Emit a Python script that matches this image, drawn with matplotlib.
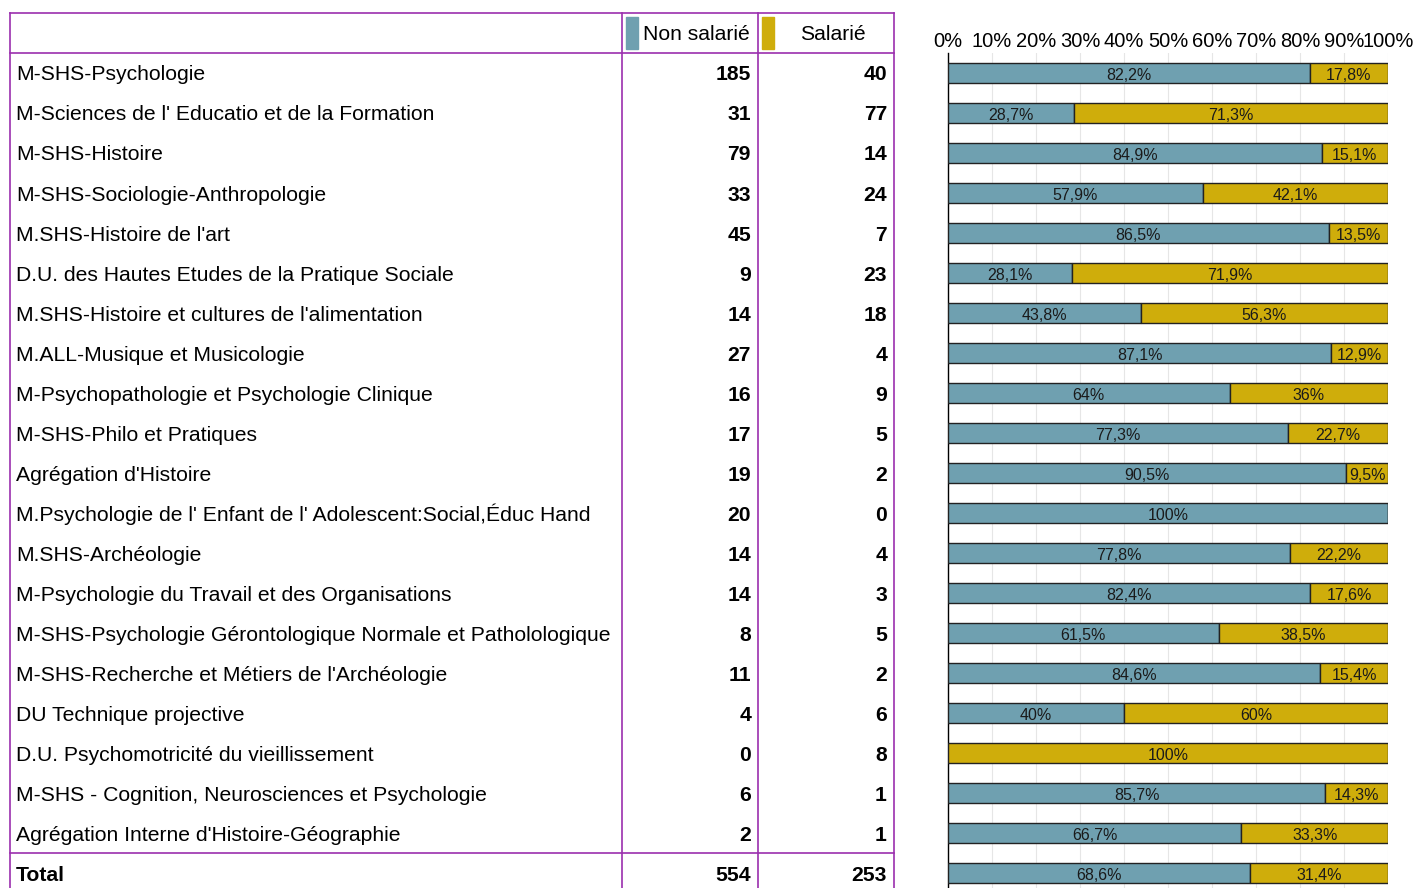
import matplotlib.pyplot as plt
import numpy as np
from decimal import Decimal, ROUND_HALF_UP

plt.rcParams['font.family'] = ['Liberation Sans', 'DejaVu Sans']

formations = [
    "M-SHS-Psychologie",
    "M-Sciences de l' Educatio et de la Formation",
    "M-SHS-Histoire",
    "M-SHS-Sociologie-Anthropologie",
    "M.SHS-Histoire de l'art",
    "D.U. des Hautes Etudes de la Pratique Sociale",
    "M.SHS-Histoire et cultures de l'alimentation",
    "M.ALL-Musique et Musicologie",
    "M-Psychopathologie et Psychologie Clinique",
    "M-SHS-Philo et Pratiques",
    "Agrégation d'Histoire",
    "M.Psychologie de l' Enfant de l' Adolescent:Social,Éduc Hand",
    "M.SHS-Archéologie",
    "M-Psychologie du Travail et des Organisations",
    "M-SHS-Psychologie Gérontologique Normale et Patholologique",
    "M-SHS-Recherche et Métiers de l'Archéologie",
    "DU Technique projective",
    "D.U. Psychomotricité du vieillissement",
    "M-SHS - Cognition, Neurosciences et Psychologie",
    "Agrégation Interne d'Histoire-Géographie",
]
non_salarie = [185, 31, 79, 33, 45, 9, 14, 27, 16, 17, 19, 20, 14, 14, 8, 11, 4, 0, 6, 2]
salarie = [40, 77, 14, 24, 7, 23, 18, 4, 9, 5, 2, 0, 4, 3, 5, 2, 6, 8, 1, 1]
series = ["Non salarié", "Salarié"]

labels = formations + ["Total"]
non_all = non_salarie + [sum(non_salarie)]
sal_all = salarie + [sum(salarie)]

c_non = "#6fa0b0"
c_sal = "#cfad0b"
c_border = "#9b2fae"


# percentage label like the spreadsheet: one decimal, half up, no ",0"
def fmt(part, whole):
    p = (Decimal(part) * 100 / Decimal(whole)).quantize(Decimal("0.1"), rounding=ROUND_HALF_UP)
    s = str(p)
    if s.endswith(".0"):
        s = s[:-2]
    return s.replace(".", ",") + "%"


fig = plt.figure(figsize=(14.17, 8.88), dpi=100)

# table part, drawn in pixel coordinates
tab = fig.add_axes([0, 0, 1, 1])
tab.set_xlim(0, 1417)
tab.set_ylim(888, 0)
tab.axis("off")

row0 = 73
step = 40
lw = 1.2
tab.plot([10, 894], [13, 13], color=c_border, lw=lw)
tab.plot([10, 894], [53, 53], color=c_border, lw=lw)
tab.plot([10, 894], [853, 853], color=c_border, lw=lw)
for x in [10, 622, 758, 894]:
    tab.plot([x, x], [13, 888], color=c_border, lw=lw)

# header
tab.add_patch(plt.Rectangle((626, 17), 12, 32, color=c_non))
tab.add_patch(plt.Rectangle((762, 17), 12, 32, color=c_sal))
tab.text(750, 40.5, series[0], ha="right", va="baseline", fontsize=15.2)
tab.text(833, 40.5, series[1], ha="center", va="baseline", fontsize=15.2)

for i, name in enumerate(labels):
    y = row0 + i * step + 7.5
    bold = "bold" if name == "Total" else "normal"
    tab.text(16, y, name, ha="left", va="baseline", fontsize=15.2, fontweight=bold)
    tab.text(751, y, str(non_all[i]), ha="right", va="baseline", fontsize=15.2, fontweight="bold")
    tab.text(887, y, str(sal_all[i]), ha="right", va="baseline", fontsize=15.2, fontweight="bold")

# 100% stacked bars
ax = fig.add_axes([948 / 1417, 0, 440 / 1417, (888 - 53) / 888])
n = np.array(non_all, dtype=float)
s = np.array(sal_all, dtype=float)
tot = n + s
p_non = n / tot * 100
p_sal = s / tot * 100
ypos = np.arange(len(labels))

# fill slightly offset (shadow look), outline on top
ax.barh(ypos + 0.035, p_non, height=0.5, left=0.3, color=c_non, linewidth=0, zorder=2)
ax.barh(ypos + 0.035, p_sal, left=p_non + 0.3, height=0.5, color=c_sal, linewidth=0, zorder=2)
ax.barh(ypos, p_non, height=0.5, color=c_non, edgecolor="#222222", linewidth=1, zorder=3)
ax.barh(ypos, p_sal, left=p_non, height=0.5, color=c_sal, edgecolor="#222222", linewidth=1, zorder=3)

for i in range(len(labels)):
    if p_non[i] > 0:
        ax.text(p_non[i] / 2, ypos[i] + 0.06, fmt(non_all[i], non_all[i] + sal_all[i]),
                ha="center", va="center", fontsize=11.5, color="#1a1a1a", zorder=4)
    if p_sal[i] > 0:
        ax.text(p_non[i] + p_sal[i] / 2, ypos[i] + 0.06, fmt(sal_all[i], non_all[i] + sal_all[i]),
                ha="center", va="center", fontsize=11.5, color="#1a1a1a", zorder=4)

ax.set_xlim(0, 100)
ax.set_ylim((888 - row0) / step, -0.5)
ax.set_xticks(np.arange(0, 101, 10))
ax.set_xticklabels(["%d%%" % v for v in range(0, 101, 10)], fontsize=14.5)
ax.xaxis.tick_top()
ax.tick_params(axis="x", length=0, pad=1.5)
ax.set_yticks([])
ax.grid(axis="x", color="#e6e6e6", lw=0.8, zorder=0)
for side in ["top", "right", "bottom"]:
    ax.spines[side].set_visible(False)
ax.spines["left"].set_color("black")
ax.spines["left"].set_linewidth(1)
ax.patch.set_alpha(0)

fig.savefig("out.png", dpi=100)
